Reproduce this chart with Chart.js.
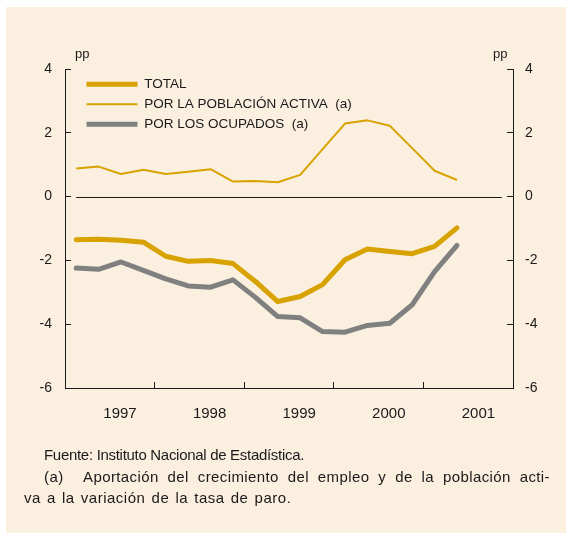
<!DOCTYPE html>
<html>
<head>
<meta charset="utf-8">
<script src="https://cdn.jsdelivr.net/npm/chart.js@4/dist/chart.umd.min.js"></script>
<style>
    html, body { margin: 0; padding: 0; background: #fff; }
    #panel { position: absolute; left: 6px; top: 7px; width: 560px; height: 526px; background: #fbefe0; }
    #wrap { position: absolute; left: 0; top: 0; width: 566px; height: 533px; }
    .txt { position: absolute; font-family: 'Liberation Sans', Arial, sans-serif; color: #1a1a1a; white-space: nowrap; }
    .pp { font-size: 13px; line-height: 15px; top: 46px; }
    .note { font-size: 15px; line-height: 17px; }
</style>
</head>
<body>
<div id="panel"></div>
<div id="wrap"><canvas id="chartCanvas" width="566" height="533"></canvas></div>
<div class="txt pp" style="left:75px">pp</div>
<div class="txt pp" style="left:493px">pp</div>
<div class="txt note" style="left:44px; top:446px; letter-spacing:-0.3px">Fuente: Instituto Nacional de Estadística.</div>
<div class="txt note" style="left:44px; top:468px; width:506px; letter-spacing:0.4px; text-align:justify; text-align-last:justify; white-space:normal"><span style="display:inline-block; width:39px">(a)</span>Aportación del crecimiento del empleo y de la población acti-</div>
<div class="txt note" style="left:24px; top:489px; letter-spacing:0.5px; word-spacing:1.5px">va a la variación de la tasa de paro.</div>
<script>
    // quarters 1997 I .. 2001 II
    var quarters = ['I-97', 'II-97', 'III-97', 'IV-97', 'I-98', 'II-98', 'III-98', 'IV-98',
        'I-99', 'II-99', 'III-99', 'IV-99', 'I-00', 'II-00', 'III-00', 'IV-00', 'I-01', 'II-01']
    var years = ['1997', '1998', '1999', '2000', '2001']
    var yTicks = [-6, -4, -2, 0, 2, 4]

    var total = [-1.35, -1.34, -1.37, -1.43, -1.87, -2.03, -2.00, -2.10, -2.66, -3.29,
        -3.13, -2.76, -1.98, -1.64, -1.72, -1.79, -1.56, -0.98]
    var activa = [0.88, 0.94, 0.71, 0.84, 0.71, 0.78, 0.86, 0.47, 0.49, 0.45,
        0.68, 1.49, 2.29, 2.39, 2.22, 1.52, 0.81, 0.52]
    var ocupados = [-2.24, -2.28, -2.05, -2.31, -2.58, -2.80, -2.84, -2.61, -3.16, -3.76,
        -3.80, -4.23, -4.25, -4.04, -3.97, -3.39, -2.35, -1.53]

    var gold = '#d8a200'
    var grey = '#808080'
    var ink = '#1a1a1a'

    // each quarter sits in the middle of its slot on a 0..20 axis
    function pts(arr) {
        return arr.map(function (v, i) { return { x: i + 0.5, y: v } })
    }

    var zeroLine = {
        id: 'zeroLine',
        beforeDatasetsDraw: function (chart) {
            var c = chart.ctx, x = chart.scales.x, y = chart.scales.y
            var py = Math.round(y.getPixelForValue(0)) + 0.5
            c.save()
            c.strokeStyle = ink
            c.lineWidth = 1
            c.beginPath()
            c.moveTo(x.getPixelForValue(0.5), py)
            c.lineTo(x.getPixelForValue(quarters.length + 1.5), py)
            c.stroke()
            c.restore()
        }
    }

    // legend sits inside the plot, a little in from the left axis
    var moveLegend = {
        id: 'moveLegend',
        afterLayout: function (chart) {
            var lg = chart.legend
            var h = lg.bottom - lg.top
            lg.top = chart.chartArea.top + 2
            lg.bottom = lg.top + h
            lg.left = chart.chartArea.left + 15
        }
    }

    function yAxis(pos, pad) {
        return {
            position: pos,
            min: -6,
            max: 4,
            afterBuildTicks: function (s) { s.ticks = yTicks.map(function (v) { return { value: v } }) },
            afterFit: function (s) { s.width = pos === 'left' ? 65 : 53 },
            ticks: { color: ink, padding: pad, font: { family: 'Liberation Sans', size: 14 } },
            grid: { drawOnChartArea: false, tickLength: -6, color: ink, lineWidth: 1 },
            border: { display: true, color: ink, width: 1 }
        }
    }

    var ctx = document.getElementById('chartCanvas')
    new Chart(ctx, {
        type: 'line',
        data: {
            datasets: [{
                label: 'TOTAL',
                data: pts(total),
                borderColor: gold,
                backgroundColor: gold,
                borderWidth: 5,
                borderCapStyle: 'round',
                borderJoinStyle: 'round'
            }, {
                label: 'POR LA POBLACIÓN ACTIVA  (a)',
                data: pts(activa),
                borderColor: gold,
                backgroundColor: gold,
                borderWidth: 2,
                borderJoinStyle: 'round'
            }, {
                label: 'POR LOS OCUPADOS  (a)',
                data: pts(ocupados),
                borderColor: grey,
                backgroundColor: grey,
                borderWidth: 5,
                borderCapStyle: 'round',
                borderJoinStyle: 'round'
            }]
        },
        options: {
            responsive: false,
            animation: false,
            events: [],
            layout: { padding: { top: 69, left: 0, right: 0, bottom: 0 } },
            elements: { point: { radius: 0 }, line: { tension: 0 } },
            scales: {
                x: {
                    type: 'linear',
                    min: 0,
                    max: 20,
                    afterBuildTicks: function (s) {
                        s.ticks = [0, 4, 8, 12, 16, 20].map(function (v) { return { value: v } })
                    },
                    afterFit: function (s) { s.height = 145 },
                    ticks: {
                        autoSkip: false,
                        maxRotation: 0,
                        color: ink,
                        padding: 23,
                        labelOffset: 55,
                        font: { family: 'Liberation Sans', size: 15 },
                        callback: function (v, i) { return years[i] || '' }
                    },
                    grid: { drawOnChartArea: false, tickLength: -6, color: ink, lineWidth: 1 },
                    border: { display: true, color: ink, width: 1 }
                },
                y: yAxis('left', 19),
                y2: yAxis('right', 18)
            },
            plugins: {
                legend: {
                    position: 'chartArea',
                    align: 'start',
                    labels: {
                        usePointStyle: true,
                        pointStyle: 'line',
                        pointStyleWidth: 51,
                        padding: 6.5,
                        color: ink,
                        font: { family: 'Liberation Sans', size: 13.5 }
                    }
                },
                tooltip: { enabled: false }
            }
        },
        plugins: [zeroLine, moveLegend]
    })
</script>
</body>
</html>
